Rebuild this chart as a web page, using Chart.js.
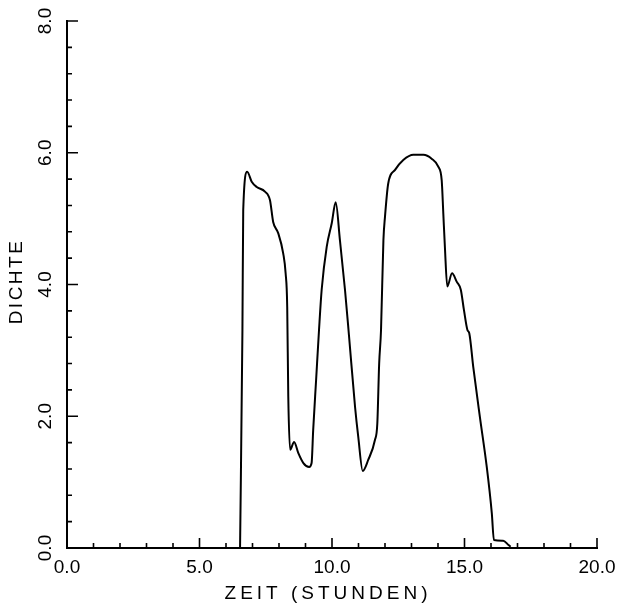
<!DOCTYPE html>
<html>
<head>
<meta charset="utf-8">
<script src="https://cdn.jsdelivr.net/npm/chart.js@4"></script>
<style>
  html, body { margin: 0; padding: 0; background: #fff; }
  #wrap { width: 618px; height: 606px; }
</style>
</head>
<body>
<div id="wrap"><canvas id="chart"></canvas></div>
<script>
// values
const zeit = [6.53, 6.62, 6.65, 6.80, 6.97, 7.16, 7.47, 7.66, 7.78, 7.97, 8.16, 8.25, 8.31, 8.35, 8.42,
  8.57, 8.73, 8.92, 9.14, 9.23, 9.29, 9.40, 9.51, 9.61, 9.80, 9.99, 10.14, 10.30, 10.49, 10.64,
  10.87, 10.99, 11.16, 11.37, 11.62, 11.71, 11.78, 11.85, 11.94, 12.00, 12.12, 12.38, 12.69, 13.07, 13.45,
  13.76, 14.01, 14.14, 14.20, 14.26, 14.35, 14.53, 14.71, 14.86, 14.98, 15.11, 15.18, 15.33, 15.58, 15.84,
  16.03, 16.11, 16.46, 16.65, 16.74]
const dichte = [0, 3.31, 5.13, 5.71, 5.56, 5.48, 5.41, 5.28, 4.95, 4.78, 4.47, 4.17, 3.66, 2.30, 1.49,
  1.61, 1.44, 1.29, 1.23, 1.29, 1.79, 2.55, 3.31, 3.92, 4.57, 4.93, 5.25, 4.67, 3.92, 3.23,
  2.14, 1.69, 1.17, 1.34, 1.64, 1.89, 2.80, 3.31, 4.67, 5.03, 5.53, 5.74, 5.89, 5.97, 5.97,
  5.91, 5.79, 5.58, 5.08, 4.57, 3.97, 4.17, 4.04, 3.92, 3.61, 3.31, 3.26, 2.75, 1.99, 1.23,
  0.53, 0.12, 0.11, 0.05, 0.02]

const xTitle = "ZEIT (STUNDEN)"
const yTitle = "DICHTE"

Chart.defaults.font.family = '"Liberation Sans", Arial, sans-serif'
Chart.defaults.font.size = 19
Chart.defaults.color = "#000"

// inward tick marks + spaced-out axis titles
const axisDecor = {
  id: "axisDecor",
  afterDraw(chart) {
    const { ctx, chartArea: a, scales } = chart
    const x = scales.x
    const y = scales.y
    ctx.save()
    ctx.strokeStyle = "#000"
    ctx.lineWidth = 1.6
    ctx.beginPath()
    for (let v = 0; v <= 20; v++) {
      const px = x.getPixelForValue(v)
      const len = v % 5 === 0 ? 10 : 5
      ctx.moveTo(px, a.bottom)
      ctx.lineTo(px, a.bottom - len)
    }
    for (let i = 0; i <= 20; i++) {
      const py = y.getPixelForValue(i * 0.4)
      const len = i % 5 === 0 ? 11 : 5
      ctx.moveTo(a.left, py)
      ctx.lineTo(a.left + len, py)
    }
    ctx.stroke()

    ctx.fillStyle = "#000"
    ctx.font = '19px "Liberation Sans", Arial, sans-serif'
    ctx.textAlign = "center"
    ctx.textBaseline = "middle"
    ctx.letterSpacing = "4px"
    ctx.fillText(xTitle, (a.left + a.right) / 2 - 4, a.bottom + 46)
    ctx.translate(a.left - 50, (a.top + a.bottom) / 2 - 3)
    ctx.rotate(-Math.PI / 2)
    ctx.letterSpacing = "2.5px"
    ctx.fillText(yTitle, 0, 0)
    ctx.restore()
  },
}

const config = {
  type: "line",
  data: {
    datasets: [
      {
        data: zeit.map((t, i) => ({ x: t, y: dichte[i] })),
        borderColor: "#000",
        borderWidth: 2,
        pointRadius: 0,
        cubicInterpolationMode: "monotone",
        fill: false,
      },
    ],
  },
  options: {
    responsive: true,
    maintainAspectRatio: false,
    animation: false,
    layout: { padding: { top: 21, right: 21, left: 0, bottom: 0 } },
    plugins: { legend: false, tooltip: { enabled: false } },
    scales: {
      x: {
        type: "linear",
        min: 0,
        max: 20,
        grid: { display: false, drawTicks: false },
        border: { display: true, color: "#000", width: 2 },
        ticks: {
          stepSize: 5,
          padding: 8,
          maxRotation: 0,
          callback: (v) => v.toFixed(1),
        },
        afterFit: (s) => {
          s.height = 58
          s.paddingLeft = 0
          s.paddingRight = 0
        },
      },
      y: {
        min: 0,
        max: 8,
        grid: { display: false, drawTicks: false },
        border: { display: true, color: "#000", width: 2 },
        ticks: {
          stepSize: 2,
          padding: 8,
          minRotation: 90,
          maxRotation: 90,
          crossAlign: "center",
          callback: (v) => v.toFixed(1),
        },
        afterFit: (s) => {
          s.width = 67
          s.paddingTop = 0
          s.paddingBottom = 0
        },
      },
    },
  },
  plugins: [axisDecor],
}

new Chart(document.getElementById("chart"), config)
</script>
</body>
</html>
